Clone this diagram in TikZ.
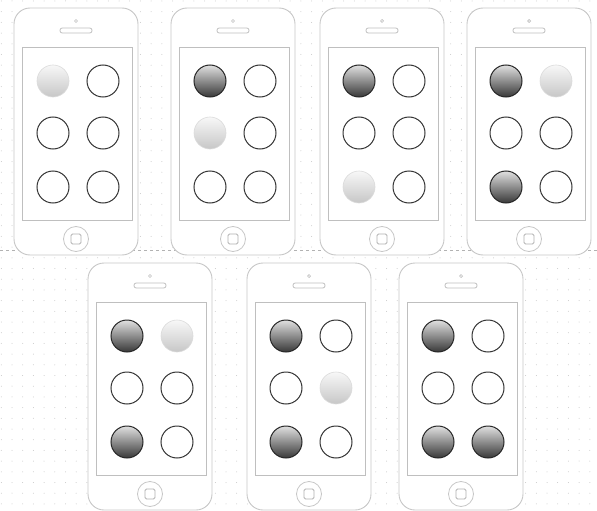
\documentclass[tikz,border=0pt]{standalone}
\usetikzlibrary{calc}

\begin{document}
\begin{tikzpicture}[x=1pt, y=-1pt,
    % Define the phone outline styles
    body/.style={draw=black!22, line width=0.9pt, fill=white, rounded corners=16pt},
    screen/.style={draw=black!25, line width=0.8pt},
    % Define the three states of a dot
    off/.style={circle, minimum size=32pt, inner sep=0pt, draw=black!80, line width=1pt, fill=white},
    lit/.style={circle, minimum size=32pt, inner sep=0pt, draw=black!14, line width=0.6pt,
        top color=black!3, bottom color=black!22},
    on/.style={circle, minimum size=32pt, inner sep=0pt, draw=black!85, line width=1pt,
        top color=black!12, bottom color=black!78},
    % Define the phone itself
    phone/.pic={
        \draw[body] (0,0) rectangle (124,247);
        \draw[screen] (8,39) rectangle (118,212);
        \draw[black!25, line width=0.7pt] (62,13) circle (1.5);
        \draw[black!25, line width=0.8pt, rounded corners=2.2pt] (46,20) rectangle (78,25);
        \draw[black!22, line width=0.8pt] (62,231) circle (12.5);
        \draw[black!30, line width=0.8pt, rounded corners=1.5pt] (57,226) rectangle (67,236);
    }
]

\useasboundingbox (0,0) rectangle (597,511);

% Draw the dotted grid of the canvas
\foreach \gx in {0,...,55}
    \foreach \gy in {0,...,47}
        \fill[black!22] (1.3+\gx*10.7, 1+\gy*10.7) circle (0.5);

% Draw the row separator
\draw[black!30, dashed, line width=0.6pt] (0,250) -- (597,250);

% Draw the phones and their dots
\foreach \px/\py/\a/\b/\c/\d/\e/\f [count=\i] in {
    14/8/lit/off/off/off/off/off,
    171/8/on/off/lit/off/off/off,
    320/8/on/off/off/off/lit/off,
    467/8/on/lit/off/off/on/off,
    88/263/on/lit/off/off/on/off,
    247/263/on/off/off/lit/on/off,
    399/263/on/off/off/off/on/on}
{
    \pic at (\px,\py) {phone};
    \node[\a] (dot\i-1) at (\px+39,\py+73) {};
    \node[\b] (dot\i-2) at (\px+89,\py+73) {};
    \node[\c] (dot\i-3) at (\px+39,\py+125) {};
    \node[\d] (dot\i-4) at (\px+89,\py+125) {};
    \node[\e] (dot\i-5) at (\px+39,\py+179) {};
    \node[\f] (dot\i-6) at (\px+89,\py+179) {};
}

\end{tikzpicture}
\end{document}
